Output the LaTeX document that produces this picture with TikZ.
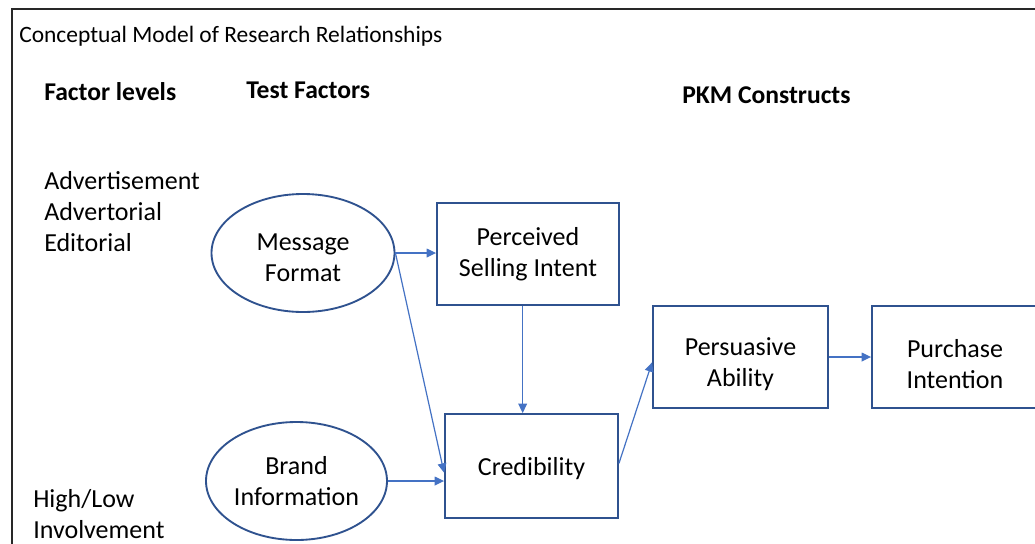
\documentclass[tikz,border=0pt]{standalone}
\usepackage{fontspec}
\setmainfont{Carlito}
\usetikzlibrary{shapes.geometric,arrows.meta}
\usepackage{xcolor}
\definecolor{pkmblue}{RGB}{47,82,143}
\definecolor{pkmarrow}{RGB}{68,114,196}
\definecolor{pkmframe}{RGB}{40,40,40}
\tikzset{
  factorbox/.style={ellipse, draw=pkmblue, line width=1.4pt, align=center, inner sep=0pt,
    font=\fontsize{19.5}{23.5}\selectfont},
  constructbox/.style={rectangle, draw=pkmblue, line width=1.4pt, align=center, inner sep=0pt,
    minimum height=76.5pt, font=\fontsize{19.5}{23.5}\selectfont},
  link/.style={pkmarrow, line width=0.9pt, -{Triangle[length=7pt,width=6.5pt]}},
  heading/.style={anchor=base west, inner sep=0pt, font=\fontsize{19.2}{23}\selectfont\bfseries},
  levels/.style={anchor=west, align=left, inner sep=0pt, font=\fontsize{19.5}{23.25}\selectfont}
}

\begin{document}
\begin{tikzpicture}[x=0.75pt,y=-0.75pt]
  \useasboundingbox (0,0) rectangle (1035,543);
  \clip (0,0) rectangle (1035,543);
  \fill[white] (0,0) rectangle (1035,543);

  % frame and title
  \draw[pkmframe, line width=1.5pt] (12,560) -- (12,9) -- (1050,9);
  \node[anchor=base west, inner sep=0pt, font=\fontsize{17.6}{21}\selectfont] (title) at (19,42) {Conceptual Model of Research Relationships};

  % column headings
  \node[heading] (levelhead) at (44,100) {Factor levels};
  \node[heading] (testhead) at (246,98) {Test Factors};
  \node[heading] (pkmhead) at (682,103) {PKM Constructs};

  % factor levels
  \node[levels] (formatlevels) at (44,212) {Advertisement\\Advertorial\\Editorial};
  \node[levels] (brandlevels) at (33,514) {High/Low\\Involvement};

  % test factors
  \node[factorbox, minimum width=137.25pt, minimum height=88.5pt] (msg) at (303,253) {\rule{0pt}{20pt}Message\\Format};
  \node[factorbox, minimum width=135.75pt, minimum height=88.5pt] (brand) at (296.5,481) {Brand\\Information};

  % PKM constructs
  \node[constructbox, minimum width=136.5pt] (psi) at (528,254) {Perceived\\Selling Intent};
  \node[constructbox, minimum width=129.75pt, minimum height=78pt] (cred) at (531.5,466) {\rule{0pt}{17pt}Credibility};
  \node[constructbox, minimum width=131.25pt] (pa) at (740.5,357) {\rule{0pt}{24pt}Persuasive\\Ability};
  \node[constructbox, minimum width=124.5pt] (pi) at (955,357) {\rule{0pt}{24pt}Purchase\\Intention};

  % relationships
  \draw[link] (msg.east) -- (msg.east -| psi.west);
  \draw[link] (msg.east) -- ([yshift=-5pt]cred.west);
  \draw[link] (brand.east) -- (brand.east -| cred.west);
  \draw[link] ([xshift=-4pt]psi.south) -- ([xshift=-4pt]psi.south |- cred.north);
  \draw[link] ([yshift=2pt]cred.east) -- ([yshift=-4pt]pa.west);
  \draw[link] (pa.east) -- (pi.west);
\end{tikzpicture}
\end{document}
